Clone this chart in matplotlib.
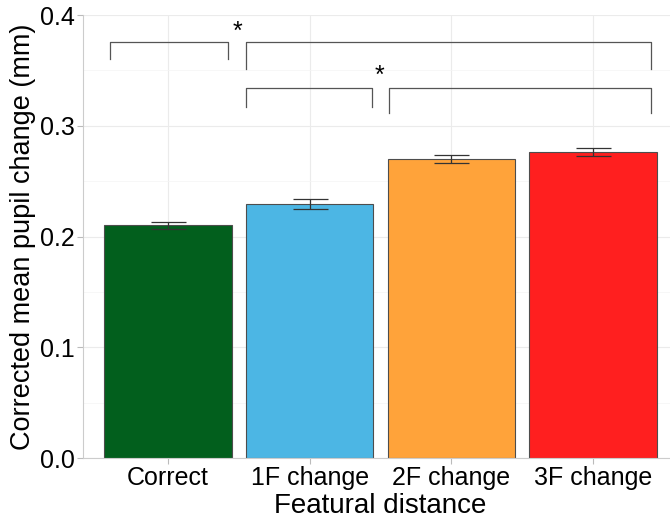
import numpy as np
import matplotlib.pyplot as plt
from matplotlib.ticker import MultipleLocator, FormatStrFormatter

plt.rcParams["font.family"] = ["Liberation Sans", "DejaVu Sans"]

categories = ["Correct", "1F change", "2F change", "3F change"]
means = [0.210, 0.2295, 0.270, 0.2765]
errors = [0.0035, 0.0042, 0.0038, 0.0038]
colors = ["#025F1D", "#4CB6E4", "#FFA33A", "#FF1F1F"]

# significance brackets: (x_start, x_end, y_top, y_bottom)
brackets = [
    (0.59, 1.42, 0.376, 0.360),
    (1.55, 4.41, 0.376, 0.351),
    (1.55, 2.44, 0.334, 0.317),
    (2.56, 4.41, 0.334, 0.312),
]
stars = [(1.49, 0.374), (2.49, 0.334)]

fig = plt.figure(figsize=(6.7, 5.19), dpi=100)
# plot panel runs slightly past the right edge of the figure, as in the original
ax = fig.add_axes([0.1239, 0.1175, 0.888, 0.8535])

x = np.arange(1, len(categories) + 1)
ax.bar(x, means, width=0.9, color=colors, edgecolor="#4d4d4d", linewidth=0.8, zorder=2)
ax.errorbar(x, means, yerr=errors, fmt="none", ecolor="#333333", elinewidth=0.9,
            capsize=12.6, capthick=0.9, zorder=3)

for x0, x1, yt, yb in brackets:
    ax.plot([x0, x0, x1, x1], [yb, yt, yt, yb], color="#555555", lw=0.9, zorder=3)
for sx, sy in stars:
    ax.text(sx, sy, "*", ha="center", va="bottom", fontsize=18, color="black")

ax.set_xlim(0.4, 4.6)
ax.set_ylim(0, 0.4)
ax.yaxis.set_major_locator(MultipleLocator(0.1))
ax.yaxis.set_minor_locator(MultipleLocator(0.05))
ax.yaxis.set_major_formatter(FormatStrFormatter("%.1f"))
ax.set_xticks(x)
ax.set_xticklabels(categories)
ax.tick_params(axis="both", labelsize=18, colors="#bbbbbb", labelcolor="black", length=4, pad=2)
ax.tick_params(axis="y", which="minor", length=0)

ax.grid(True, which="major", color="#ebebeb", lw=0.8, zorder=0)
ax.grid(True, which="minor", axis="y", color="#f4f4f4", lw=0.5, zorder=0)
ax.set_axisbelow(True)
for s in ["top", "right"]:
    ax.spines[s].set_visible(False)
for s in ["left", "bottom"]:
    ax.spines[s].set_color("#cccccc")
    ax.spines[s].set_linewidth(0.8)

ax.set_xlabel("Featural distance", fontsize=20, labelpad=2)
ax.set_ylabel("Corrected mean pupil change (mm)", fontsize=19.5, labelpad=3)

fig.savefig("out.png", dpi=100)
